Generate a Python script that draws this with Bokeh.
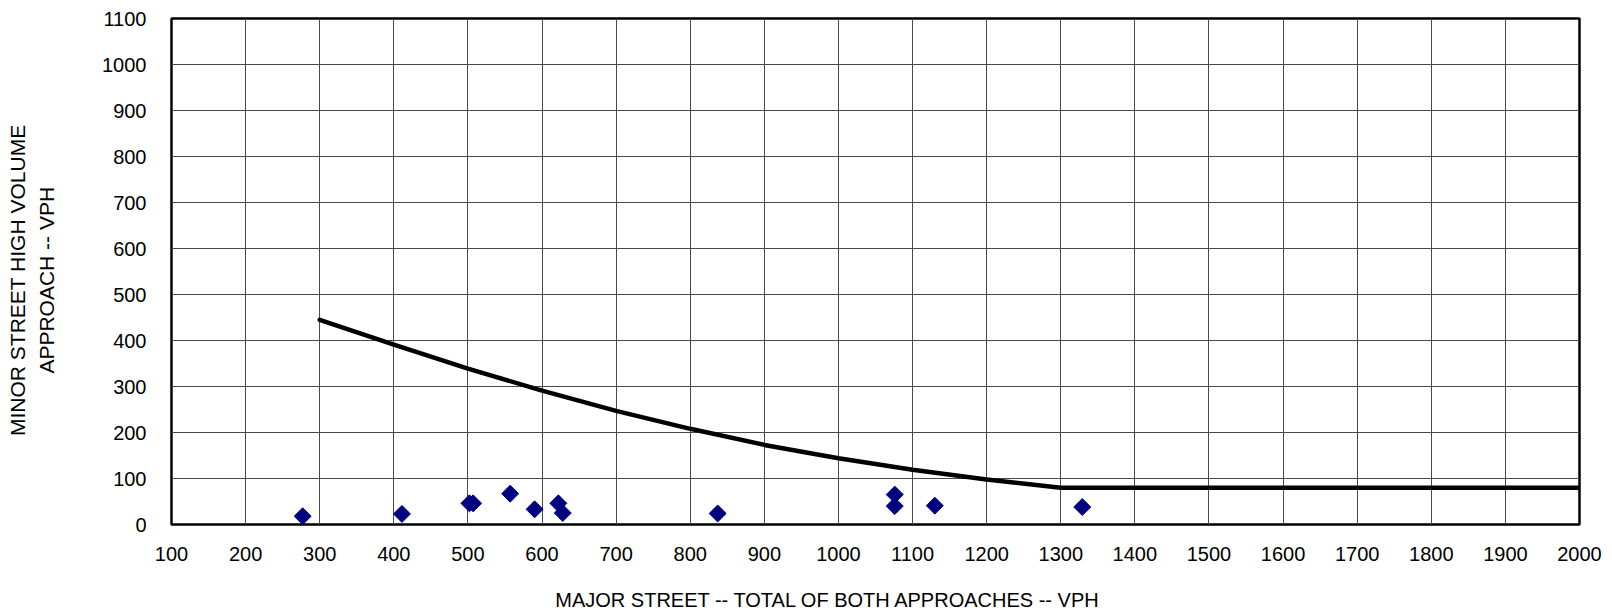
import math
from bokeh.plotting import figure
from bokeh.models import FixedTicker, Range1d
from bokeh.embed import file_html
from bokeh.resources import INLINE

# Data
major_vph = [277, 411, 502, 507, 557, 590, 622, 628, 837, 1076, 1076, 1130, 1329]
minor_vph = [18, 23, 46, 46, 67, 33, 46, 25, 24, 65, 40, 41, 38]

curve_x = [300, 400, 500, 600, 700, 800, 900, 1000, 1100, 1200, 1300, 2000]
curve_y = [445, 391, 339, 291, 247, 208, 173, 144, 119, 98, 80, 80]

x_ticks = list(range(100, 2001, 100))
y_ticks = list(range(0, 1101, 100))

x_title = "MAJOR STREET -- TOTAL OF BOTH APPROACHES -- VPH"
y_title_lines = ["MINOR STREET HIGH VOLUME", "APPROACH -- VPH"]

FONT = "Liberation Sans"
NBSP = "\u00a0"

p = figure(
    width=1604, height=614,
    min_border_left=171, min_border_top=18, min_border_right=25, min_border_bottom=90,
    x_range=Range1d(100, 2000), y_range=Range1d(0, 1100),
    output_backend="svg", toolbar_location=None,
)
p.background_fill_color = "white"
p.outline_line_color = "black"
p.outline_line_width = 2.5

for ax in (p.xaxis[0], p.yaxis[0]):
    ax.axis_line_color = None
    ax.major_tick_line_color = None
    ax.minor_tick_line_color = None
    ax.major_tick_out = 0
    ax.major_tick_in = 0
    ax.minor_tick_out = 0
    ax.minor_tick_in = 0
    ax.major_label_text_font = FONT
    ax.major_label_text_font_size = "20px"
    ax.major_label_text_color = "black"
    ax.axis_label_text_font = FONT
    ax.axis_label_text_font_style = "normal"
    ax.axis_label_text_color = "black"

p.xaxis[0].ticker = FixedTicker(ticks=x_ticks)
p.yaxis[0].ticker = FixedTicker(ticks=y_ticks)
p.xaxis[0].major_label_standoff = 22
p.yaxis[0].major_label_standoff = 25

# x title sits left of centre in the reference: pad its end with no-break spaces
p.xaxis[0].axis_label = x_title + NBSP * 17
p.xaxis[0].axis_label_text_font_size = "20px"
p.xaxis[0].axis_label_standoff = 25

# y title sits slightly below centre in the reference
p.yaxis[0].axis_label = "\n".join(line + NBSP * 3 for line in y_title_lines)
p.yaxis[0].axis_label_text_font_size = "21px"
p.yaxis[0].axis_label_text_line_height = 1.28
p.yaxis[0].axis_label_standoff = 41

p.grid.grid_line_color = "#4a4a4a"
p.grid.grid_line_width = 1
p.xgrid.ticker = FixedTicker(ticks=x_ticks)
p.ygrid.ticker = FixedTicker(ticks=y_ticks)

p.line(curve_x, curve_y, line_color="black", line_width=4.5, line_cap="round", line_join="round")
p.scatter(major_vph, minor_vph, marker="square", angle=math.pi / 4, size=12,
          fill_color="#000080", line_color="#000080")

open("out.html", "w").write(file_html(p, INLINE))
